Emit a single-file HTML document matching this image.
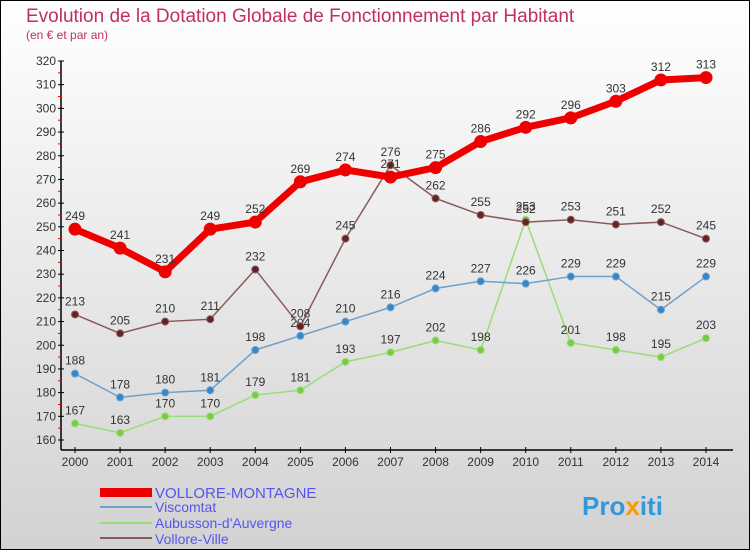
<!DOCTYPE html>
<html><head><meta charset="utf-8"><style>
body{margin:0;}
#wrap{width:750px;height:550px;position:relative;font-family:"Liberation Sans",sans-serif;}
</style></head><body>
<div id="wrap">
<svg id="svg" width="750" height="550" xmlns="http://www.w3.org/2000/svg">
<defs><linearGradient id="bg" x1="0" y1="0" x2="0" y2="1"><stop offset="0" stop-color="#ffffff"/><stop offset="1" stop-color="#d2d2d2"/></linearGradient></defs>
<rect x="0.5" y="0.5" width="749" height="549" fill="url(#bg)" stroke="#000"/>
<text x="26" y="22" font-size="19" fill="#c0305a">Evolution de la Dotation Globale de Fonctionnement par Habitant</text>
<text x="26" y="39" font-size="12" fill="#c0305a">(en € et par an)</text>
<g id="axes"></g><g id="series"></g>
<g>
<rect x="100" y="488" width="52" height="9" fill="#ee0000"/>
<text x="155" y="498" font-size="15" fill="#5555ee">VOLLORE-MONTAGNE</text>
<rect x="100" y="506" width="52" height="2" fill="#6fa0cc"/>
<text x="155" y="512" font-size="14" fill="#5555ee">Viscomtat</text>
<rect x="100" y="522" width="52" height="2" fill="#99dd77"/>
<text x="155" y="528" font-size="14" fill="#5555ee">Aubusson-d'Auvergne</text>
<rect x="100" y="537" width="52" height="2" fill="#8a5a5a"/>
<text x="155" y="544" font-size="14" fill="#5555ee">Vollore-Ville</text>
</g>
<g><text x="582" y="515" font-size="26" font-weight="bold" fill="#3399dd">Pro<tspan fill="#ff9900">x</tspan>iti</text></g>
</svg></div>
<script>
const years=[2000,2001,2002,2003,2004,2005,2006,2007,2008,2009,2010,2011,2012,2013,2014];
const yTicks=[160,170,180,190,200,210,220,230,240,250,260,270,280,290,300,310,320];
const vollore=[249,241,231,249,252,269,274,271,275,286,292,296,303,312,313];
const viscomtat=[188,178,180,181,198,204,210,216,224,227,226,229,229,215,229];
const aubusson=[167,163,170,170,179,181,193,197,202,198,253,201,198,195,203];
const volloreVille=[213,205,210,211,232,208,245,276,262,255,252,253,251,252,245];
const NS='http://www.w3.org/2000/svg';
const X=i=>75+i*(706-75)/(years.length-1);
const Y=v=>440-(v-160)*(440-61)/160;
function el(t,a,p){const e=document.createElementNS(NS,t);for(const k in a)e.setAttribute(k,a[k]);p.appendChild(e);return e;}
const ax=document.getElementById('axes');
const yl=el('line',{x1:61,y1:61,x2:61,y2:450,stroke:'#000','stroke-width':1.5},ax);


const xl=el('line',{x1:61,y1:450,x2:733,y2:450,stroke:'#000','stroke-width':1.5},ax);


yTicks.forEach(v=>{el('line',{x1:58,x2:64,y1:Y(v),y2:Y(v),stroke:'#000'},ax);
 if(v<320)el('line',{x1:58,x2:61,y1:Y(v+5),y2:Y(v+5),stroke:'#e00'},ax);
 const t=el('text',{x:56,y:Y(v)+4,'font-size':12,fill:'#333','text-anchor':'end'},ax);t.textContent=v;
 
 });
years.forEach((y,i)=>{el('line',{x1:X(i),x2:X(i),y1:447,y2:453,stroke:'#000'},ax);
 const t=el('text',{x:X(i),y:466,'font-size':12,fill:'#333','text-anchor':'middle'},ax);t.textContent=y;
 
 });
const sg=document.getElementById('series');
function draw(vals,color,dot,w,r,name){
 const g=el('g',{},sg);
 
 
 el('polyline',{points:vals.map((v,i)=>X(i)+','+Y(v)).join(' '),fill:'none',stroke:color,'stroke-width':w,'stroke-linejoin':'round'},g);
 vals.forEach((v,i)=>{const c=el('circle',{cx:X(i),cy:Y(v),r:r,fill:dot,stroke:color,'stroke-width':1},g);
  
  
  const t=el('text',{x:X(i),y:Y(v)-9,'font-size':12,fill:'#333','text-anchor':'middle'},g);t.textContent=v;
  
  });
}
draw(aubusson,'#99dd77','#77cc44',1.5,3.5,'series-aubusson');
draw(viscomtat,'#6fa0cc','#3388cc',1.5,3.5,'series-viscomtat');
draw(volloreVille,'#8a5a5a','#662222',1.5,3.5,'series-vollore-ville');
draw(vollore,'#ee0000','#ee0000',7,6,'series-vollore-montagne');
</script></body></html>
